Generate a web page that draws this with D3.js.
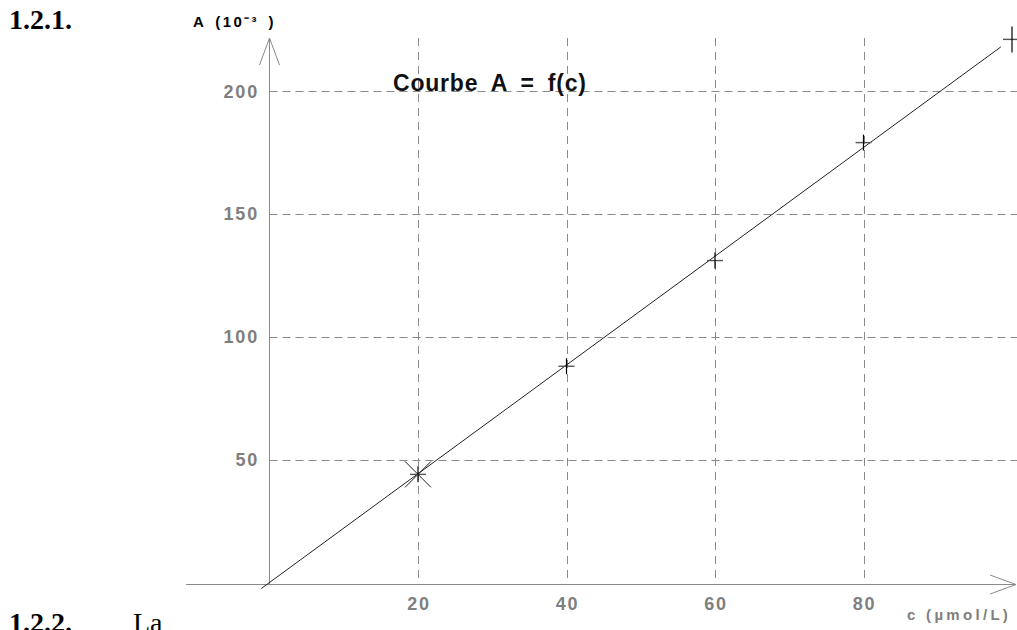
<!DOCTYPE html>
<html><head><meta charset="utf-8">
<script src="https://cdn.jsdelivr.net/npm/d3@7"></script>
<style>
html,body{margin:0;padding:0;background:#fff;}
svg{display:block;}
</style></head>
<body>
<svg id="c" width="1017" height="630"></svg>
<script>
// ---- data ----
const concentrations = [20, 40, 60, 80, 100];
const absorbances   = [44, 88, 131, 179, 221];
const xTickValues = [20, 40, 60, 80];
const yTickValues = [50, 100, 150, 200];
const fitRange = [-1.1, 98.5];
const chartTitle = "Courbe A = f(c)";
const xLabel = "c (µmol/L)";
const yLabel = "A (10⁻³ )";

const svg = d3.select("#c");
const x = d3.scaleLinear().domain([0, 100]).range([269.5, 1012]);
const y = d3.scaleLinear().domain([0, 200]).range([582.5, 91]);
const axisY = 584.5, axisX = 269.5;
const grey = "#8a8a8a";

// headings
svg.append("text").attr("x", 9).attr("y", 29).attr("font-family", "Liberation Serif").attr("font-weight", "bold").attr("font-size", 28).text("1.2.1.");
svg.append("text").attr("x", 9).attr("y", 632).attr("font-family", "Liberation Serif").attr("font-weight", "bold").attr("font-size", 28).text("1.2.2.");
svg.append("text").attr("x", 133).attr("y", 632).attr("font-family", "Liberation Serif").attr("font-size", 28).text("La");

// gridlines
svg.append("g").selectAll("line").data(yTickValues).join("line")
  .attr("x1", axisX).attr("x2", 1017).attr("y1", d => Math.round(y(d)) + 0.5).attr("y2", d => Math.round(y(d)) + 0.5)
  .attr("stroke", grey).attr("stroke-width", 1).attr("stroke-dasharray", "8,5");
svg.append("g").selectAll("line").data(xTickValues).join("line")
  .attr("x1", d => Math.round(x(d)) + 0.5).attr("x2", d => Math.round(x(d)) + 0.5).attr("y1", 38).attr("y2", axisY)
  .attr("stroke", grey).attr("stroke-width", 1).attr("stroke-dasharray", "8,6");

// axes
svg.append("line").attr("x1", 186).attr("x2", 1016).attr("y1", axisY).attr("y2", axisY).attr("stroke", grey);
svg.append("path").attr("d", `M990,575 L1016,${axisY} L990,594`).attr("fill", "none").attr("stroke", grey);
svg.append("line").attr("x1", axisX).attr("x2", axisX).attr("y1", axisY).attr("y2", 38).attr("stroke", grey);
svg.append("path").attr("d", `M259.5,65 L${axisX},38 L279.5,65`).attr("fill", "none").attr("stroke", grey);

// tick labels
svg.append("g").selectAll("text").data(yTickValues).join("text")
  .attr("x", 259).attr("y", d => y(d) + 6.5).attr("text-anchor", "end")
  .attr("font-family", "Liberation Sans").attr("font-weight", "bold").attr("font-size", 18)
  .attr("letter-spacing", 1.8).attr("fill", "#7f7f7f").text(d => d);
svg.append("g").selectAll("text").data(xTickValues).join("text")
  .attr("x", d => x(d) + 1).attr("y", 610).attr("text-anchor", "middle")
  .attr("font-family", "Liberation Sans").attr("font-weight", "bold").attr("font-size", 18)
  .attr("letter-spacing", 1.8).attr("fill", "#7f7f7f").text(d => d);

svg.append("text").attr("x", 907).attr("y", 620)
  .attr("font-family", "Liberation Sans").attr("font-weight", "bold").attr("font-size", 15)
  .attr("letter-spacing", 3.3).attr("fill", "#7f7f7f").text(xLabel);
svg.append("text").attr("x", 193).attr("y", 27)
  .attr("font-family", "Liberation Sans").attr("font-weight", "bold").attr("font-size", 15)
  .attr("letter-spacing", 2.4).attr("word-spacing", 3).attr("fill", "#000").text(yLabel);

// title
svg.append("text").attr("x", 393).attr("y", 91)
  .attr("font-family", "Liberation Sans").attr("font-weight", "bold").attr("font-size", 23)
  .attr("letter-spacing", 0.8).attr("word-spacing", 6).attr("fill", "#111").text(chartTitle);

// fitted line (least squares through origin)
const slope = d3.sum(concentrations, (c, i) => c * absorbances[i]) / d3.sum(concentrations, c => c * c);
svg.append("path")
  .attr("d", d3.line().x(d => x(d)).y(d => y(slope * d))(fitRange))
  .attr("stroke", "#222").attr("stroke-width", 1).attr("fill", "none");

// markers
const sizes = [8, 8, 8, 8, 13];
const g = svg.append("g");
concentrations.forEach((c, i) => {
  const cx = x(c), cy = y(absorbances[i]);
  const s = sizes[i];
  if (i === 0) {
    g.append("path").attr("d", `M${cx-13},${cy-13}L${cx+13},${cy+13}M${cx-13},${cy+13}L${cx+13},${cy-13}`).attr("stroke", "#222");
  }
  g.append("line").attr("x1", cx - (i === 4 ? 9 : 8)).attr("x2", cx + (i === 4 ? 9 : 8)).attr("y1", cy).attr("y2", cy).attr("stroke", "#555").attr("stroke-width", 1.4);
  g.append("line").attr("x1", cx).attr("x2", cx).attr("y1", cy - s).attr("y2", cy + s).attr("stroke", "#000").attr("stroke-width", 1.2);
});
</script>
</body></html>
